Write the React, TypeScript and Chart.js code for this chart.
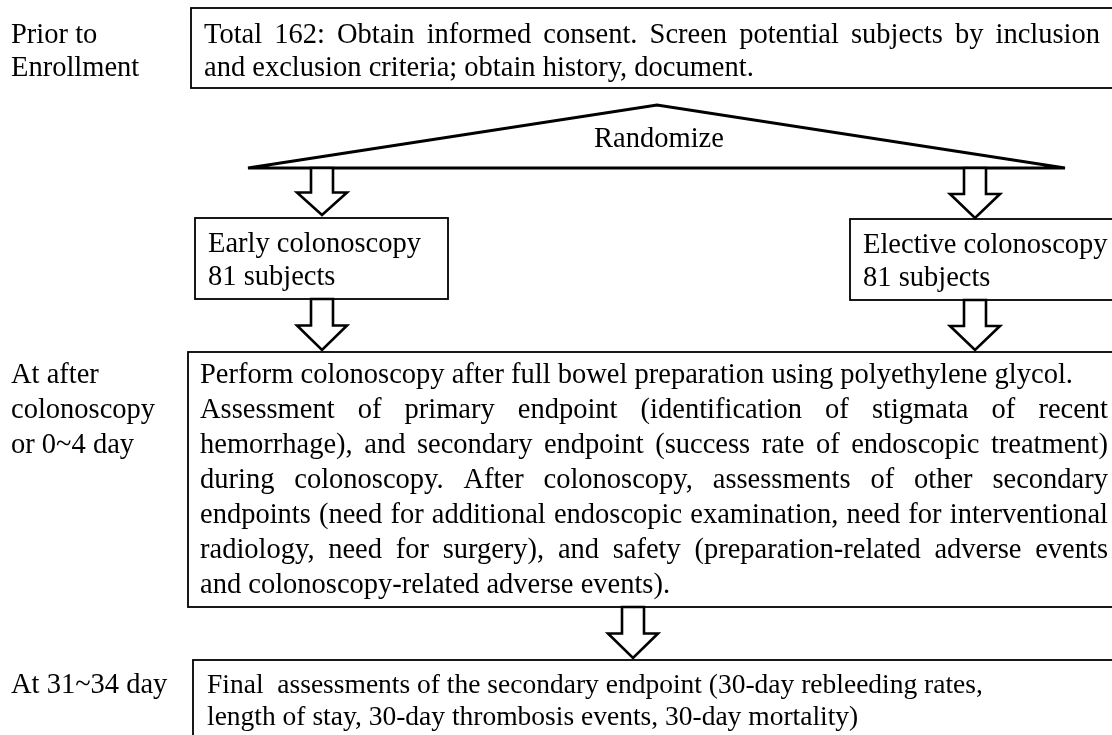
import React, { useEffect, useRef } from "react";
import { Chart, registerables } from "chart.js";

Chart.register(...registerables);

// ---- content ----
const periodPrior = ["Prior to", "Enrollment"];
const periodAfter = ["At after", "colonoscopy", "or 0~4 day"];
const periodFinal = ["At 31~34 day"];
const enrollLines = [
  "Total 162: Obtain informed consent. Screen potential subjects by inclusion",
  "and exclusion criteria; obtain history, document.",
];
const enrollJustified = [true, false];
const randomizeLabel = "Randomize";
const earlyLines = ["Early colonoscopy", "81 subjects"];
const electiveLines = ["Elective colonoscopy", "81 subjects"];
const procedureLines = [
  "Perform colonoscopy after full bowel preparation using polyethylene glycol.",
  "Assessment of primary endpoint (identification of stigmata of recent",
  "hemorrhage), and secondary endpoint (success rate of endoscopic treatment)",
  "during colonoscopy. After colonoscopy, assessments of other secondary",
  "endpoints (need for additional endoscopic examination, need for interventional",
  "radiology, need for surgery), and safety (preparation-related adverse events",
  "and colonoscopy-related adverse events).",
];
const procedureJustified = [false, true, true, true, true, true, false];
const finalLines = [
  "Final  assessments of the secondary endpoint (30-day rebleeding rates,",
  "length of stay, 30-day thrombosis events, 30-day mortality)",
];

// ---- layout (in chart value space: x 0..1112, y 0..735 top-down) ----
const W = 1112;
const H = 735;
const FONT = '28.5px "Liberation Serif", "Times New Roman", serif';
const FONT_FINAL = '27.5px "Liberation Serif", "Times New Roman", serif';

const L = {
  labelX: 11,
  prior: { y: 43, step: 33 },
  after: { y: 383, step: 35 },
  final: { y: 693, step: 33 },
  top: { x1: 191, y1: 8, x2: 1116, y2: 88, tx: 204, tr: 1100, ty: 43, step: 33 },
  tri: { ax: 657, ay: 105, lx: 248, rx: 1065, by: 168, ty: 147 },
  early: { x1: 195, y1: 218, x2: 448, y2: 299, tx: 208, ty: 252, step: 33 },
  elective: { x1: 850, y1: 219, x2: 1116, y2: 300, tx: 863, ty: 253, step: 33 },
  big: { x1: 188, y1: 352, x2: 1116, y2: 607, tx: 200, tr: 1108, ty: 383, step: 35 },
  fin: { x1: 193, y1: 660, x2: 1116, y2: 760, tx: 207, ty: 693, step: 32 },
  arrows: [
    { x: 322, y1: 168, y2: 215 },
    { x: 975, y1: 168, y2: 218 },
    { x: 322, y1: 299, y2: 350 },
    { x: 975, y1: 300, y2: 350 },
    { x: 633, y1: 607, y2: 658 },
  ],
};

function App() {
  const ref = useRef<HTMLCanvasElement | null>(null);

  useEffect(() => {
    const canvas = ref.current;
    if (!canvas) return;

    const flowPlugin = {
      id: "flow",
      afterDraw(chart: any) {
        const ctx = chart.ctx as CanvasRenderingContext2D;
        const xs = chart.scales.x;
        const ys = chart.scales.y;
        const px = (v: number) => xs.getPixelForValue(v);
        const py = (v: number) => ys.getPixelForValue(v);

        ctx.save();
        ctx.fillStyle = "#ffffff";
        ctx.fillRect(0, 0, chart.width, chart.height);
        ctx.fillStyle = "#000000";
        ctx.strokeStyle = "#000000";
        ctx.font = FONT;
        ctx.textBaseline = "alphabetic";
        ctx.textAlign = "left";

        const drawLines = (lines: string[], x: number, y: number, step: number) => {
          lines.forEach((t, i) => ctx.fillText(t, px(x), py(y + i * step)));
        };
        // spread the words of one line so that it ends at "right"
        const drawJustified = (t: string, x: number, right: number, y: number) => {
          const words = t.split(" ");
          const widths = words.map((w) => ctx.measureText(w).width);
          const total = widths.reduce((a, b) => a + b, 0);
          const gap = (px(right) - px(x) - total) / (words.length - 1);
          let cx = px(x);
          words.forEach((w, i) => {
            if (w) ctx.fillText(w, cx, py(y));
            cx += widths[i] + gap;
          });
        };
        const rect = (b: any, lw = 1.8) => {
          ctx.lineWidth = lw;
          ctx.strokeRect(px(b.x1), py(b.y1), px(b.x2) - px(b.x1), py(b.y2) - py(b.y1));
        };
        const arrow = (a: any) => {
          const cx = px(a.x);
          const top = py(a.y1);
          const tip = py(a.y2);
          const len = tip - top;
          const sw = 11;
          const hw = 25;
          const headLen = len * 0.48;
          ctx.beginPath();
          ctx.moveTo(cx - sw, top);
          ctx.lineTo(cx + sw, top);
          ctx.lineTo(cx + sw, tip - headLen);
          ctx.lineTo(cx + hw, tip - headLen);
          ctx.lineTo(cx, tip);
          ctx.lineTo(cx - hw, tip - headLen);
          ctx.lineTo(cx - sw, tip - headLen);
          ctx.closePath();
          ctx.fillStyle = "#ffffff";
          ctx.fill();
          ctx.lineWidth = 2.6;
          ctx.lineJoin = "miter";
          ctx.stroke();
          ctx.fillStyle = "#000000";
        };

        // period labels
        drawLines(periodPrior, L.labelX, L.prior.y, L.prior.step);
        drawLines(periodAfter, L.labelX, L.after.y, L.after.step);
        drawLines(periodFinal, L.labelX, L.final.y, L.final.step);

        // top box
        rect(L.top);
        enrollLines.forEach((t, i) => {
          const y = L.top.ty + i * L.top.step;
          if (enrollJustified[i]) drawJustified(t, L.top.tx, L.top.tr, y);
          else ctx.fillText(t, px(L.top.tx), py(y));
        });

        // randomize triangle
        ctx.beginPath();
        ctx.moveTo(px(L.tri.lx), py(L.tri.by));
        ctx.lineTo(px(L.tri.ax), py(L.tri.ay));
        ctx.lineTo(px(L.tri.rx), py(L.tri.by));
        ctx.closePath();
        ctx.lineWidth = 2.8;
        ctx.lineJoin = "miter";
        ctx.stroke();
        ctx.textAlign = "center";
        ctx.fillText(randomizeLabel, px(L.tri.ax + 2), py(L.tri.ty));
        ctx.textAlign = "left";

        // arm boxes
        rect(L.early);
        drawLines(earlyLines, L.early.tx, L.early.ty, L.early.step);
        rect(L.elective);
        drawLines(electiveLines, L.elective.tx, L.elective.ty, L.elective.step);

        // big box
        rect(L.big);
        procedureLines.forEach((t, i) => {
          const y = L.big.ty + i * L.big.step;
          if (procedureJustified[i]) drawJustified(t, L.big.tx, L.big.tr, y);
          else ctx.fillText(t, px(L.big.tx), py(y));
        });

        // final box
        rect(L.fin);
        ctx.font = FONT_FINAL;
        drawLines(finalLines, L.fin.tx, L.fin.ty, L.fin.step);
        ctx.font = FONT;

        // arrows
        L.arrows.forEach(arrow);
        ctx.restore();
      },
    };

    const chart = new Chart(canvas, {
      type: "scatter",
      data: { datasets: [{ data: [], pointRadius: 0 }] },
      options: {
        animation: false,
        responsive: false,
        maintainAspectRatio: false,
        layout: { padding: 0 },
        plugins: { legend: { display: false }, tooltip: { enabled: false } },
        scales: {
          x: { type: "linear", min: 0, max: W, display: false },
          y: { type: "linear", min: 0, max: H, reverse: true, display: false },
        },
      },
      plugins: [flowPlugin],
    });
    return () => chart.destroy();
  }, []);

  return (
    <div style={{ position: "absolute", left: 0, top: 0, width: W, height: H, background: "#fff" }}>
      <canvas ref={ref} width={W} height={H} style={{ width: W, height: H, display: "block" }} />
    </div>
  );
}

export default App;
